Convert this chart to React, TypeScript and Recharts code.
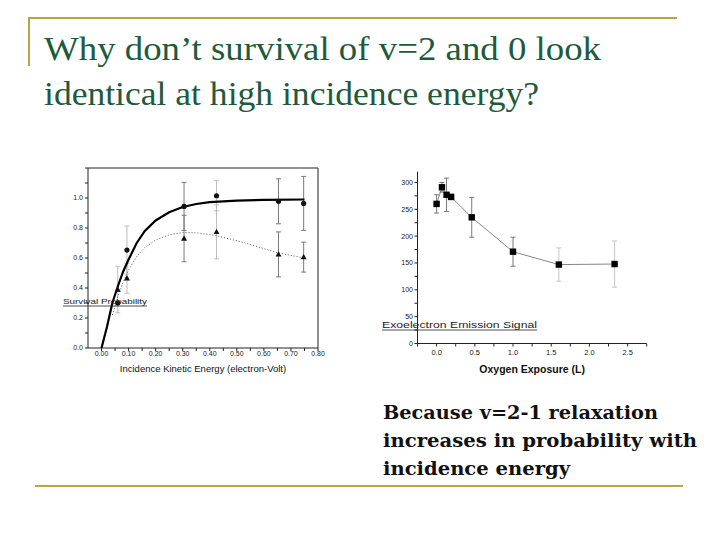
import { ComposedChart, Scatter, XAxis, YAxis, ErrorBar } from 'recharts';

// left panel: survival vs incidence energy
const energy = [0.06, 0.094, 0.305, 0.425, 0.654, 0.747];
const survivalCircle = [0.3, 0.653, 0.944, 1.015, 0.978, 0.964];
const circleErr = [0, 0.16, 0.16, 0.1, 0.15, 0.18];
const survivalTriangle = [0.39, 0.465, 0.73, 0.774, 0.624, 0.606];
const triangleErr = [0.155, 0.1, 0.155, 0.18, 0.15, 0.1];
const faintBar = [true, true, false, true, false, false];

const fitSolidX = [0, 0.02, 0.04, 0.06, 0.08, 0.1, 0.13, 0.16, 0.2, 0.25, 0.3, 0.35, 0.4, 0.5, 0.6, 0.75];
const fitSolidY = [0, 0.14, 0.3, 0.41, 0.51, 0.59, 0.7, 0.78, 0.85, 0.905, 0.94, 0.96, 0.972, 0.982, 0.987, 0.99];
const fitDotX = [0.04, 0.06, 0.08, 0.1, 0.13, 0.16, 0.2, 0.25, 0.3, 0.35, 0.42, 0.5, 0.55, 0.65, 0.75];
const fitDotY = [0.22, 0.34, 0.44, 0.52, 0.61, 0.67, 0.72, 0.755, 0.77, 0.768, 0.75, 0.715, 0.69, 0.635, 0.6];

const energyTicks = [0, 0.05, 0.1, 0.15, 0.2, 0.25, 0.3, 0.35, 0.4, 0.45, 0.5, 0.55, 0.6, 0.65, 0.7, 0.75, 0.8];
const survivalTicks = [0, 0.1, 0.2, 0.3, 0.4, 0.5, 0.6, 0.7, 0.8, 0.9, 1.0, 1.1, 1.2];

// right panel: signal vs oxygen exposure
const exposure = [0.0, 0.07, 0.13, 0.19, 0.46, 1.0, 1.6, 2.33];
const signal = [260, 291, 277, 273, 235, 171, 147, 148];
const signalErr = [17, 9, 31, 5, 37, 27, 31, 43];
const signalFaint = [false, false, false, false, false, false, true, true];

const exposureTicks = [-0.25, 0, 0.25, 0.5, 0.75, 1.0, 1.25, 1.5, 1.75, 2.0, 2.25, 2.5, 2.75];
const signalTicks = [0, 25, 50, 75, 100, 125, 150, 175, 200, 225, 250, 275, 300];

const FONT = '"Liberation Sans", Arial, sans-serif';
const GOLD = '#b9a548';
const GREEN = '#1e5a3c';

const pts = (xs: number[], ys: number[]) => xs.map((x, i) => ({ x, y: ys[i] }));

const circlePts = energy.map((x, i) => ({ x, y: survivalCircle[i], e: circleErr[i], faint: faintBar[i] }));
const trianglePts = energy.map((x, i) => ({ x, y: survivalTriangle[i], e: triangleErr[i], faint: faintBar[i] }));
const signalPts = exposure.map((x, i) => ({ x, y: signal[i], e: signalErr[i], faint: signalFaint[i] }));

const Dot = (p: any) => <circle cx={p.cx} cy={p.cy} r={2.6} fill="#111" />;
const Tri = (p: any) => (
  <polygon
    points={`${p.cx},${p.cy - 3.2} ${p.cx - 3},${p.cy + 2.2} ${p.cx + 3},${p.cy + 2.2}`}
    fill="#111"
  />
);
const Sq = (p: any) => <rect x={p.cx - 3.2} y={p.cy - 3.2} width={6.4} height={6.4} fill="#000" />;
const Nothing = () => <g />;

const tickStyle = { fontSize: 7, fill: '#222', fontFamily: FONT };

function SurvivalChart() {
  const all = [...circlePts, ...trianglePts];
  return (
    <ComposedChart width={300} height={220} margin={{ top: 8, right: 22, bottom: 8, left: 0 }}>
      <XAxis
        xAxisId="b"
        type="number"
        dataKey="x"
        domain={[-0.05, 0.8]}
        ticks={energyTicks}
        interval={0}
        tickFormatter={(v: number) => (Math.round(v * 100) % 10 === 0 ? v.toFixed(2) : '')}
        tick={tickStyle}
        tickSize={3}
        tickMargin={0}
        height={24}
        stroke="#222"
        allowDataOverflow
        label={{
          value: 'Incidence Kinetic Energy (electron-Volt)',
          position: 'insideBottom',
          offset: 0,
          fontSize: 9.5,
          fill: '#111',
          fontFamily: FONT,
        }}
      />
      <XAxis
        xAxisId="t"
        orientation="top"
        type="number"
        dataKey="x"
        domain={[-0.05, 0.8]}
        ticks={energyTicks}
        interval={0}
        tick={false}
        mirror
        tickSize={3}
        height={1}
        stroke="#222"
        allowDataOverflow
      />
      <YAxis
        yAxisId="l"
        type="number"
        dataKey="y"
        domain={[0, 1.2]}
        ticks={survivalTicks}
        interval={0}
        tickFormatter={(v: number) => (Math.round(v * 10) % 2 === 0 && v < 1.1 ? v.toFixed(1) : '')}
        tick={tickStyle}
        tickSize={3}
        tickMargin={2}
        width={48}
        stroke="#222"
        allowDataOverflow
      />
      <YAxis
        yAxisId="r"
        orientation="right"
        type="number"
        dataKey="y"
        domain={[0, 1.2]}
        ticks={survivalTicks}
        interval={0}
        tick={false}
        mirror
        tickSize={3}
        width={1}
        stroke="#222"
        allowDataOverflow
      />
      <Scatter
        xAxisId="t"
        yAxisId="r"
        data={all}
        shape={Nothing}
        isAnimationActive={false}
      />
      <Scatter
        xAxisId="b"
        yAxisId="l"
        data={all.filter((d) => d.faint && d.e > 0)}
        shape={Nothing}
        isAnimationActive={false}
      >
        <ErrorBar dataKey="e" direction="y" width={2.5} stroke="#bdbdbd" strokeWidth={1} />
      </Scatter>
      <Scatter
        xAxisId="b"
        yAxisId="l"
        data={all.filter((d) => !d.faint && d.e > 0)}
        shape={Nothing}
        isAnimationActive={false}
      >
        <ErrorBar dataKey="e" direction="y" width={2.5} stroke="#7a7a7a" strokeWidth={1} />
      </Scatter>
      <Scatter
        xAxisId="b"
        yAxisId="l"
        data={pts(fitDotX, fitDotY)}
        line={{ stroke: '#555', strokeWidth: 1, strokeDasharray: '1 2' }}
        lineType="joint"
        shape={Nothing}
        isAnimationActive={false}
      />
      <Scatter
        xAxisId="b"
        yAxisId="l"
        data={pts(fitSolidX, fitSolidY)}
        line={{ stroke: '#000', strokeWidth: 2.2 }}
        lineType="joint"
        shape={Nothing}
        isAnimationActive={false}
      />
      <Scatter xAxisId="b" yAxisId="l" data={trianglePts} shape={Tri} isAnimationActive={false} />
      <Scatter xAxisId="b" yAxisId="l" data={circlePts} shape={Dot} isAnimationActive={false} />
    </ComposedChart>
  );
}

function ExposureChart() {
  return (
    <ComposedChart width={280} height={220} margin={{ top: 11.7, right: 13.3, bottom: 7.5, left: 0 }}>
      <XAxis
        type="number"
        dataKey="x"
        domain={[-0.25, 2.75]}
        ticks={exposureTicks}
        interval={0}
        tickFormatter={(v: number) => (Math.round(v * 100) % 50 === 0 && v >= 0 && v <= 2.5 ? v.toFixed(1) : '')}
        tick={{ ...tickStyle, fontSize: 7.5 }}
        tickSize={3}
        tickMargin={3}
        height={29}
        stroke="#222"
        allowDataOverflow
        label={{
          value: 'Oxygen Exposure (L)',
          position: 'insideBottom',
          offset: 0,
          fontSize: 10.5,
          fontWeight: 'bold',
          fill: '#111',
          fontFamily: FONT,
        }}
      />
      <YAxis
        type="number"
        dataKey="y"
        domain={[0, 320]}
        ticks={signalTicks}
        interval={0}
        tickFormatter={(v: number) => (v % 50 === 0 ? String(v) : '')}
        tick={tickStyle}
        tickSize={3}
        tickMargin={1.5}
        width={37.5}
        stroke="#222"
        allowDataOverflow
      />
      <Scatter
        data={signalPts.filter((d) => d.faint)}
        shape={Nothing}
        isAnimationActive={false}
      >
        <ErrorBar dataKey="e" direction="y" width={2.5} stroke="#c4c4c4" strokeWidth={1} />
      </Scatter>
      <Scatter
        data={signalPts.filter((d) => !d.faint)}
        shape={Nothing}
        isAnimationActive={false}
      >
        <ErrorBar dataKey="e" direction="y" width={2.5} stroke="#777" strokeWidth={1} />
      </Scatter>
      <Scatter
        data={signalPts}
        line={{ stroke: '#777', strokeWidth: 0.9 }}
        lineType="joint"
        shape={Sq}
        isAnimationActive={false}
      />
    </ComposedChart>
  );
}

export default function App() {
  return (
    <div
      style={{
        position: 'absolute',
        left: 0,
        top: 0,
        width: 720,
        height: 540,
        background: '#fff',
        overflow: 'hidden',
      }}
    >
      <svg width={720} height={540} style={{ position: 'absolute', left: 0, top: 0 }}>
        <line x1={29} y1={18} x2={677} y2={18} stroke={GOLD} strokeWidth={2} />
        <line x1={29} y1={17} x2={29} y2={66} stroke={GOLD} strokeWidth={2} />
        <line x1={35} y1={486} x2={683} y2={486} stroke={GOLD} strokeWidth={2} />
        <text x={44} y={60} fontFamily='"Liberation Serif", serif' fontSize={34} fill={GREEN} textLength={557} lengthAdjust="spacingAndGlyphs">
          Why don’t survival of v=2 and 0 look
        </text>
        <text x={44} y={105} fontFamily='"Liberation Serif", serif' fontSize={34} fill={GREEN} textLength={495} lengthAdjust="spacingAndGlyphs">
          identical at high incidence energy?
        </text>
        <g fontFamily='"DejaVu Serif", serif' fontWeight="bold" fontSize={19} fill="#111">
          <text x={383} y={419} textLength={275} lengthAdjust="spacingAndGlyphs">Because v=2-1 relaxation</text>
          <text x={383} y={447} textLength={314} lengthAdjust="spacingAndGlyphs">increases in probability with</text>
          <text x={383} y={475} textLength={187} lengthAdjust="spacingAndGlyphs">incidence energy</text>
        </g>
      </svg>
      <div style={{ position: 'absolute', left: 40, top: 160 }}>
        <SurvivalChart />
      </div>
      <div style={{ position: 'absolute', left: 380, top: 160 }}>
        <ExposureChart />
      </div>
      <svg width={720} height={540} style={{ position: 'absolute', left: 0, top: 0, pointerEvents: 'none' }}>
        <text x={63} y={304} fontFamily={FONT} fontSize={8} fill="#222" textLength={84} lengthAdjust="spacingAndGlyphs">
          Survival Probability
        </text>
        <line x1={63} y1={306} x2={147} y2={306} stroke="#222" strokeWidth={0.8} />
        <text x={382} y={328} fontFamily={FONT} fontSize={9} fill="#222" textLength={155} lengthAdjust="spacingAndGlyphs">
          Exoelectron Emission Signal
        </text>
        <line x1={382} y1={330} x2={537} y2={330} stroke="#222" strokeWidth={0.8} />
      </svg>
    </div>
  );
}
